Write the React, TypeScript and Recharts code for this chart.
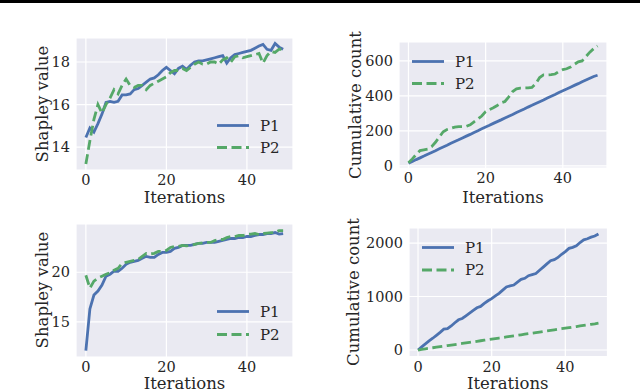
import { LineChart, Line, XAxis, YAxis, CartesianGrid } from 'recharts';

const iterations = [
  0, 1, 2, 3, 4, 5, 6, 7, 8, 9, 10, 11, 12, 13, 14, 15, 16, 17, 18, 19, 20, 21, 22, 23, 24,
  25, 26, 27, 28, 29, 30, 31, 32, 33, 34, 35, 36, 37, 38, 39, 40, 41, 42, 43, 44, 45, 46, 47, 48, 49,
];

// top-left: Shapley value
const shapleyTopP1 = [
  14.45, 14.9, 14.7, 15.1, 15.55, 16.1, 16.15, 16.1, 16.15, 16.45, 16.45, 16.5, 16.7, 16.75, 16.9,
  17.05, 17.2, 17.25, 17.4, 17.6, 17.75, 17.6, 17.45, 17.7, 17.8, 17.65, 17.85, 18.0, 18.05, 18.05,
  18.1, 18.15, 18.2, 18.25, 18.3, 17.95, 18.2, 18.35, 18.4, 18.45, 18.5, 18.55, 18.65, 18.75, 18.83,
  18.6, 18.55, 18.87, 18.7, 18.6,
];
const shapleyTopP2 = [
  13.2, 14.3, 15.3, 16.0, 15.6, 16.0, 16.3, 16.7, 16.5, 16.9, 17.2, 16.9, 16.8, 16.9, 16.9, 16.7,
  16.9, 17.0, 17.1, 17.2, 17.3, 17.5, 17.6, 17.6, 17.7, 17.6, 17.75, 17.9, 18.0, 17.9, 17.9, 18.0,
  18.0, 17.9, 18.1, 18.2, 18.0, 18.25, 18.3, 18.2, 18.25, 18.3, 18.35, 18.4, 17.95, 18.3, 18.5, 18.45,
  18.6, 18.6,
];

// top-right: cumulative count
const countTopP1 = [
  15, 25, 36, 46, 56, 67, 77, 87, 98, 108, 118, 129, 139, 149, 160, 170, 180, 191, 201, 212, 222,
  232, 243, 253, 263, 274, 284, 294, 305, 315, 325, 336, 346, 357, 367, 377, 388, 398, 408, 419, 429,
  439, 450, 460, 470, 481, 491, 501, 511, 518,
];
const countTopP2 = [
  18, 40, 65, 88, 92, 96, 110, 135, 165, 195, 208, 215, 222, 225, 225, 226, 235, 252, 268, 285, 310,
  322, 332, 345, 360, 368, 395, 425, 440, 445, 445, 446, 448, 470, 505, 520, 520, 521, 525, 540, 550,
  555, 565, 580, 595, 600, 625, 650, 670, 685,
];

// bottom-left: Shapley value
const shapleyBottomP1 = [
  12.1, 16.3, 17.7, 18.1, 18.7, 19.6, 19.8, 20.1, 20.1, 20.4, 20.8, 21.0, 21.1, 21.2, 21.4, 21.6,
  21.5, 21.5, 21.8, 22.0, 22.0, 22.1, 22.4, 22.5, 22.7, 22.7, 22.7, 22.8, 22.9, 22.9, 23.0, 23.0,
  23.0, 23.1, 23.2, 23.3, 23.4, 23.4, 23.5, 23.5, 23.6, 23.6, 23.7, 23.8, 23.8, 23.9, 23.9, 24.0,
  23.85, 23.9,
];
const shapleyBottomP2 = [
  19.7, 18.4, 19.1, 19.4, 19.6, 19.8, 19.95, 20.2, 20.4, 20.9, 21.0, 21.1, 21.2, 21.3, 21.6, 21.9,
  21.85, 21.9, 22.1, 22.1, 22.2, 22.5, 22.6, 22.6, 22.7, 22.65, 22.7, 22.8, 22.9, 22.95, 23.0, 23.0,
  23.2, 23.3, 23.3, 23.5, 23.6, 23.6, 23.7, 23.7, 23.8, 23.85, 23.9, 23.8, 23.9, 23.95, 24.0, 24.0,
  24.2, 24.2,
];

// bottom-right: cumulative count
const countBottomP1 = [
  0, 60, 115, 170, 220, 275, 330, 390, 400, 450, 510, 565, 590, 640, 690, 740, 790, 815, 870, 920,
  960, 1010, 1060, 1120, 1180, 1200, 1215, 1270, 1320, 1340, 1390, 1410, 1430, 1490, 1550, 1610, 1670,
  1690, 1730, 1790, 1840, 1900, 1920, 1950, 2010, 2060, 2080, 2110, 2130, 2170,
];
const countBottomP2 = [
  0, 12, 22, 32, 42, 52, 62, 72, 82, 92, 102, 112, 122, 133, 143, 153, 163, 173, 184, 194, 204, 214,
  224, 234, 245, 255, 265, 275, 285, 296, 306, 316, 326, 336, 347, 357, 367, 377, 388, 398, 408, 418,
  428, 439, 449, 459, 469, 480, 490, 502,
];

const xTicks = [0, 20, 40];
const shapleyTopTicks = [14, 16, 18];
const countTopTicks = [0, 200, 400, 600];
const shapleyBottomTicks = [15, 20];
const countBottomTicks = [0, 1000, 2000];

const legendNames = ['P1', 'P2'];

const BLUE = '#4C72B0';
const GREEN = '#55A868';
const TEXT = '#262626';
const FONT = 'DejaVu Serif';
const YW = 60;
const XH = 30;
const LW = 2.8;
const DASH = '10 4.5';

const rowsOf = (p1: number[], p2: number[]) =>
  iterations.map((it, i) => ({ it, p1: p1[i], p2: p2[i] }));

type PanelProps = {
  left: number;
  top: number;
  right: number;
  bottom: number;
  p1: number[];
  p2: number[];
  yDomain: [number, number];
  yTicks: number[];
  yLabel: string;
  yLabelX: number;
  yLabelY: number;
  xLabelY: number;
  legendX: number;
  legendY1: number;
  legendY2: number;
};

function Panel(p: PanelProps) {
  const pw = p.right - p.left;
  const ph = p.bottom - p.top;
  const tick = { fontFamily: FONT, fontSize: 14.5, fill: TEXT };
  return (
    <>
      <div style={{ position: 'absolute', left: p.left - YW, top: p.top }}>
        <LineChart
          width={pw + YW}
          height={ph + XH}
          data={rowsOf(p.p1, p.p2)}
          margin={{ top: 0, right: 0, bottom: 0, left: 0 }}
        >
          <CartesianGrid fill="#EAEAF2" stroke="#FFFFFF" strokeWidth={1.2} />
          <XAxis
            dataKey="it"
            type="number"
            domain={[-2.45, 51.45]}
            ticks={xTicks}
            height={XH}
            axisLine={false}
            tickLine={false}
            tickSize={3}
            tickMargin={2}
            tick={tick}
            allowDataOverflow
          />
          <YAxis
            type="number"
            domain={p.yDomain}
            ticks={p.yTicks}
            width={YW}
            axisLine={false}
            tickLine={false}
            tickSize={4}
            tickMargin={2}
            tick={tick}
            allowDataOverflow
          />
          <Line type="linear" dataKey="p1" stroke={BLUE} strokeWidth={LW} dot={false} isAnimationActive={false} />
          <Line
            type="linear"
            dataKey="p2"
            stroke={GREEN}
            strokeWidth={LW}
            strokeDasharray={DASH}
            dot={false}
            isAnimationActive={false}
          />
        </LineChart>
      </div>
      <div
        style={{
          position: 'absolute',
          left: p.yLabelX,
          top: p.yLabelY,
          transform: 'translate(-50%, -50%) rotate(-90deg)',
          fontFamily: FONT,
          fontSize: 16.5,
          color: TEXT,
          whiteSpace: 'nowrap',
        }}
      >
        {p.yLabel}
      </div>
      <div
        style={{
          position: 'absolute',
          left: (p.left + p.right) / 2,
          top: p.xLabelY,
          transform: 'translate(-50%, -50%)',
          fontFamily: FONT,
          fontSize: 16.5,
          color: TEXT,
          whiteSpace: 'nowrap',
        }}
      >
        Iterations
      </div>
      <svg style={{ position: 'absolute', left: 0, top: 0 }} width={640} height={390}>
        <line x1={p.legendX} x2={p.legendX + 32} y1={p.legendY1} y2={p.legendY1} stroke={BLUE} strokeWidth={LW} />
        <line
          x1={p.legendX}
          x2={p.legendX + 32}
          y1={p.legendY2}
          y2={p.legendY2}
          stroke={GREEN}
          strokeWidth={LW}
          strokeDasharray={DASH}
        />
        <text x={p.legendX + 43} y={p.legendY1} dy="0.35em" fontFamily={FONT} fontSize={15} fill={TEXT}>
          {legendNames[0]}
        </text>
        <text x={p.legendX + 43} y={p.legendY2} dy="0.35em" fontFamily={FONT} fontSize={15} fill={TEXT}>
          {legendNames[1]}
        </text>
      </svg>
    </>
  );
}

export default function App() {
  return (
    <div style={{ position: 'absolute', left: 0, top: 0, width: 640, height: 390, background: '#fff', overflow: 'hidden' }}>
      <div style={{ position: 'absolute', left: 0, top: 0, width: 640, height: 3, background: '#000' }} />
      <Panel
        left={76} top={38} right={293} bottom={170}
        p1={shapleyTopP1} p2={shapleyTopP2}
        yDomain={[12.92, 19.13]} yTicks={shapleyTopTicks}
        yLabel="Shapley value" yLabelX={42} yLabelY={104} xLabelY={197}
        legendX={217} legendY1={125.5} legendY2={147.5}
      />
      <Panel
        left={399} top={42} right={607} bottom={168}
        p1={countTopP1} p2={countTopP2}
        yDomain={[-12, 708]} yTicks={countTopTicks}
        yLabel="Cumulative count" yLabelX={355} yLabelY={105} xLabelY={197}
        legendX={412} legendY1={61.5} legendY2={83.5}
      />
      <Panel
        left={76} top={224} right={293} bottom={357}
        p1={shapleyBottomP1} p2={shapleyBottomP2}
        yDomain={[11.46, 24.86]} yTicks={shapleyBottomTicks}
        yLabel="Shapley value" yLabelX={42} yLabelY={290} xLabelY={383}
        legendX={217} legendY1={311.5} legendY2={334.5}
      />
      <Panel
        left={408.5} top={228.3} right={607} bottom={357}
        p1={countBottomP1} p2={countBottomP2}
        yDomain={[-125, 2281]} yTicks={countBottomTicks}
        yLabel="Cumulative count" yLabelX={353} yLabelY={291.5} xLabelY={383}
        legendX={422} legendY1={247.5} legendY2={270}
      />
    </div>
  );
}
